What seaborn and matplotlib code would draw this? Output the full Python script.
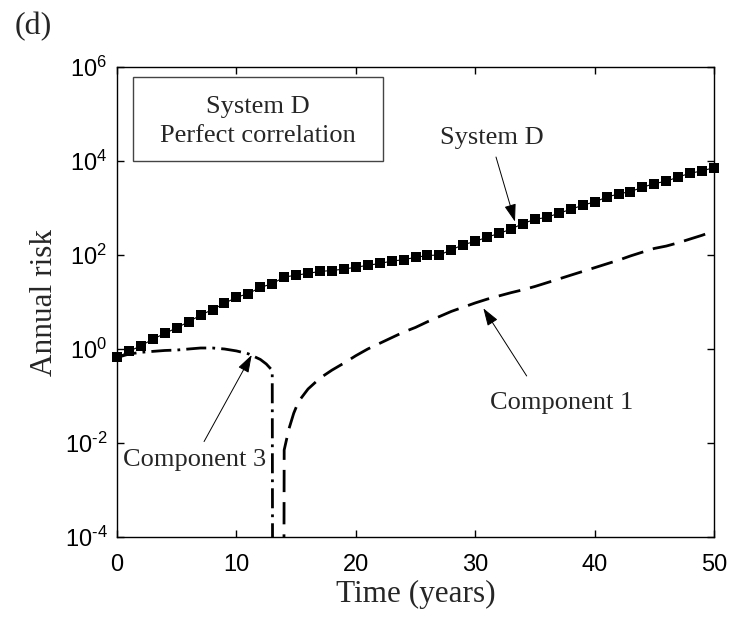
import math
import matplotlib
matplotlib.use("Agg")
import matplotlib.pyplot as plt
from matplotlib.patches import Rectangle
from matplotlib.ticker import FixedLocator, FuncFormatter
import seaborn as sns

# System D annual risk, one value per year
years = list(range(0, 51))
system_d = [0.66, 0.89, 1.17, 1.62, 2.14, 2.82, 3.80, 5.25, 6.92, 9.33,
            12.6, 15.1, 20.4, 24.5, 33.9, 37.2, 40.7, 44.7, 46.8, 50.1,
            55.0, 60.3, 66.1, 74.1, 79.4, 89.1, 97.7, 100.0, 129.0, 166.0,
            195.0, 240.0, 288.0, 355.0, 468.0, 575.0, 631.0, 776.0, 933.0, 1148.0,
            1349.0, 1698.0, 1995.0, 2239.0, 2754.0, 3311.0, 3715.0, 4571.0, 5495.0, 6166.0,
            7244.0]

# Component 1: zero risk until about year 14
comp1_time = [13.95, 14.0, 14.4, 14.8, 15.2, 16, 17, 18, 19, 20, 21, 22, 23, 24,
              25, 26, 27, 28, 29, 30, 31, 32, 33, 34, 35, 36, 37, 38, 39, 40,
              41, 42, 43, 44, 45, 46, 47, 48, 49, 50]
comp1_risk = [1e-8, 0.0071, 0.020, 0.043, 0.076, 0.141, 0.24, 0.355, 0.50, 0.72,
              1.0, 1.32, 1.74, 2.29, 2.88, 3.80, 4.90, 6.31, 7.76, 9.55,
              11.5, 13.5, 15.8, 18.2, 21.4, 25.7, 30.9, 37.2, 44.7, 53.7,
              64.6, 77.6, 95.5, 115.0, 138.0, 155.0, 182.0, 219.0, 263.0, 324.0]

# Component 3: drops out at about year 13
comp3_time = [0, 1, 2, 3, 4, 5, 6, 7, 8, 9, 10, 11, 12, 12.5, 13.0, 13.05]
comp3_risk = [0.66, 0.78, 0.85, 0.89, 0.93, 0.95, 1.0, 1.05, 1.05, 1.0,
              0.91, 0.79, 0.60, 0.48, 0.35, 1e-8]

x_ticks = [0, 10, 20, 30, 40, 50]
y_tick_exponents = [-4, -2, 0, 2, 4, 6]

sns.set_theme(style="ticks")
plt.rcParams.update({
    "font.family": ["Liberation Sans", "DejaVu Sans"],
    "mathtext.fontset": "custom",
    "mathtext.rm": "Liberation Sans",
    "mathtext.it": "Liberation Sans:italic",
    "mathtext.bf": "Liberation Sans:bold",
    "axes.edgecolor": "black",
    "axes.linewidth": 1.0,
    "xtick.direction": "in",
    "ytick.direction": "in",
    "xtick.top": True,
    "ytick.right": True,
    "xtick.color": "black",
    "ytick.color": "black",
})

serif = ["Liberation Serif", "DejaVu Serif"]


def power_label(value, pos):
    exp = int(round(math.log10(value)))
    if exp < 0:
        return r"$\mathregular{10^{\text{-}%d}}$" % abs(exp)
    return r"$\mathregular{10^{%d}}$" % exp


fig = plt.figure(figsize=(7.42, 6.20), dpi=100)
ax = fig.add_axes([0.1577, 0.1339, 0.8046, 0.7580])

sns.lineplot(x=years, y=system_d, ax=ax, color="black", lw=0.8,
             marker="s", markersize=7.5, markeredgewidth=0, sort=True,
             clip_on=False, zorder=4)
sns.lineplot(x=comp1_time, y=comp1_risk, ax=ax, color="black", lw=2.0,
             linestyle=(0, (8, 3.6)), sort=True)
sns.lineplot(x=comp3_time, y=comp3_risk, ax=ax, color="black", lw=2.0,
             linestyle=(0, (7.2, 2.2, 1.0, 2.2)), sort=True)

ax.set_yscale("log")
ax.set_xlim(0, 50)
ax.set_ylim(1e-4, 1e6)
ax.xaxis.set_major_locator(FixedLocator(x_ticks))
ax.yaxis.set_major_locator(FixedLocator([10.0 ** e for e in y_tick_exponents]))
ax.yaxis.set_minor_locator(FixedLocator([]))
ax.yaxis.set_major_formatter(FuncFormatter(power_label))
ax.tick_params(axis="both", which="major", length=5, width=1.0,
               labelsize=17)
ax.tick_params(axis="x", pad=12)
ax.tick_params(axis="y", pad=7)

ax.set_xlabel("Time (years)", fontsize=22.5, family=serif, labelpad=3)
ax.set_ylabel("Annual risk", fontsize=22.5, family=serif, labelpad=4)

# title box in upper left
ax.add_patch(Rectangle((0.0268, 0.800), 0.4188, 0.1787, transform=ax.transAxes,
                       facecolor="white", edgecolor="#444444", lw=1.0, zorder=5))
ax.text(0.236, 0.915, "System D", transform=ax.transAxes, ha="center",
        va="center", fontsize=19, family=serif, zorder=6)
ax.text(0.236, 0.853, "Perfect correlation", transform=ax.transAxes,
        ha="center", va="center", fontsize=19, family=serif, zorder=6)

arrow = dict(arrowstyle="-|>,head_length=0.9,head_width=0.3", lw=0.7,
             color="black", shrinkA=0, shrinkB=0)

ax.text(31.38, 10 ** 4.48, "System D", ha="center", va="center",
        fontsize=19, family=serif)
ax.annotate("", xy=(33.33, 10 ** 2.71), xytext=(31.74, 10 ** 4.085),
            arrowprops=arrow)

ax.text(37.24, 10 ** -1.155, "Component 1", ha="center", va="center",
        fontsize=19, family=serif)
ax.annotate("", xy=(30.68, 10 ** 0.866), xytext=(34.31, 10 ** -0.574),
            arrowprops=arrow)

ax.text(6.47, 10 ** -2.36, "Component 3", ha="center", va="center",
        fontsize=19, family=serif)
ax.annotate("", xy=(11.28, 10 ** -0.128), xytext=(7.29, 10 ** -1.97),
            arrowprops=arrow)

fig.text(0.045, 0.957, "(d)", ha="center", va="center", fontsize=23,
         family=serif)

fig.savefig("out.png", dpi=100)
